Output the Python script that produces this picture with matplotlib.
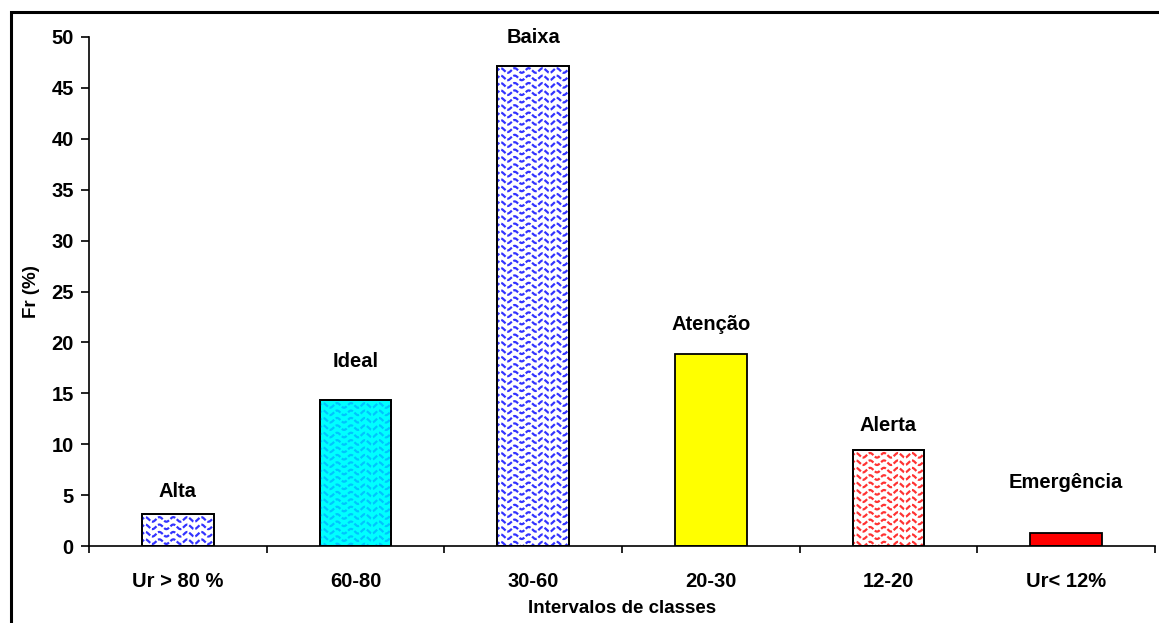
import numpy as np
import matplotlib
matplotlib.use("Agg")
import matplotlib.pyplot as plt
from matplotlib.patches import Rectangle
from matplotlib.transforms import IdentityTransform

# Relative frequency of relative-humidity classes
categories = ["Ur > 80 %", "60-80", "30-60", "20-30", "12-20", "Ur< 12%"]
fr_values = [3.1, 14.3, 47.2, 18.9, 9.4, 1.3]
class_names = ["Alta", "Ideal", "Baixa", "Atenção", "Alerta", "Emergência"]

# Styling per bar: face colour, wave colour (None = plain fill)
face_colors = ["white", "#00FFFF", "white", "#FFFF00", "white", "#FF0000"]
wave_colors = ["#3333FF", "#00C4FF", "#3333FF", None, "#FF3333", None]
label_offsets_px = [23, 39, 28, 29, 25, 50]

plt.rcParams["font.family"] = ["Liberation Sans", "DejaVu Sans"]
plt.rcParams["font.weight"] = "bold"

W, H, DPI = 1159, 623, 100
fig = plt.figure(figsize=(W / DPI, H / DPI), dpi=DPI)

# Outer frame of the chart area
fig.patches.append(Rectangle((11 / W, -0.05), 1.2, 1 - 12 / H + 0.05,
                             transform=fig.transFigure, fill=False,
                             edgecolor="black", linewidth=2.2, zorder=0))

ax = fig.add_axes([89 / W, 1 - 546 / H, (1155 - 89) / W, (546 - 37) / H])
x = np.arange(len(categories))
bars = ax.bar(x, fr_values, width=0.405, color=face_colors,
              edgecolor="black", linewidth=1.3, zorder=2)

ax.set_xlim(-0.5, len(categories) - 0.5)
ax.set_ylim(0, 50)
ax.set_yticks(np.arange(0, 51, 5))
ax.set_xticks(np.arange(-0.5, len(categories), 1.0))
ax.set_xticklabels([])
ax.set_xticks(x, minor=True)
ax.set_xticklabels(categories, minor=True)
ax.tick_params(axis="x", which="minor", length=0, pad=19, labelsize=14.5)
ax.tick_params(axis="x", which="major", direction="out", length=5, width=1.2)
ax.tick_params(axis="y", direction="out", length=6, width=1.2, labelsize=14.5, pad=5)
for lab in ax.get_yticklabels() + ax.get_xticklabels(minor=True):
    lab.set_fontweight("bold")

for side in ("top", "right"):
    ax.spines[side].set_visible(False)
for side in ("left", "bottom"):
    ax.spines[side].set_linewidth(1.2)

ax.set_xlabel("Intervalos de classes", fontsize=13.5, fontweight="bold", labelpad=6)
ax.set_ylabel("Fr (%)", fontsize=13.5, fontweight="bold", labelpad=8)

fig.canvas.draw()

# Wavy fill pattern, drawn in pixel space and clipped to each bar
for bar, wc in zip(bars, wave_colors):
    if wc is None:
        continue
    (x0, y0), (x1, y1) = ax.transData.transform(
        [(bar.get_x(), 0), (bar.get_x() + bar.get_width(), bar.get_height())])
    xs = np.linspace(x0 - 2, x1 + 2, 400)
    row = y1 - 5
    while row > y0 - 4:
        ys = row + 2.3 * np.sin(2 * np.pi * (xs - x0) / 14.0)
        ln, = ax.plot(xs, ys, transform=IdentityTransform(), color=wc,
                      linewidth=1.6, linestyle=(0, (2.5, 0.9)), zorder=2.5,
                      solid_capstyle="butt")
        ln.set_clip_path(bar)
        row -= 7.4
    # redraw outline on top
    ax.add_patch(Rectangle((bar.get_x(), 0), bar.get_width(), bar.get_height(),
                           fill=False, edgecolor="black", linewidth=1.3, zorder=3))

for bar, name, off in zip(bars, class_names, label_offsets_px):
    ax.annotate(name, (bar.get_x() + bar.get_width() / 2, bar.get_height()),
                xytext=(0, off * 72 / DPI), textcoords="offset points",
                ha="center", va="center", fontsize=14.5, fontweight="bold")

fig.savefig("out.png", dpi=DPI)
